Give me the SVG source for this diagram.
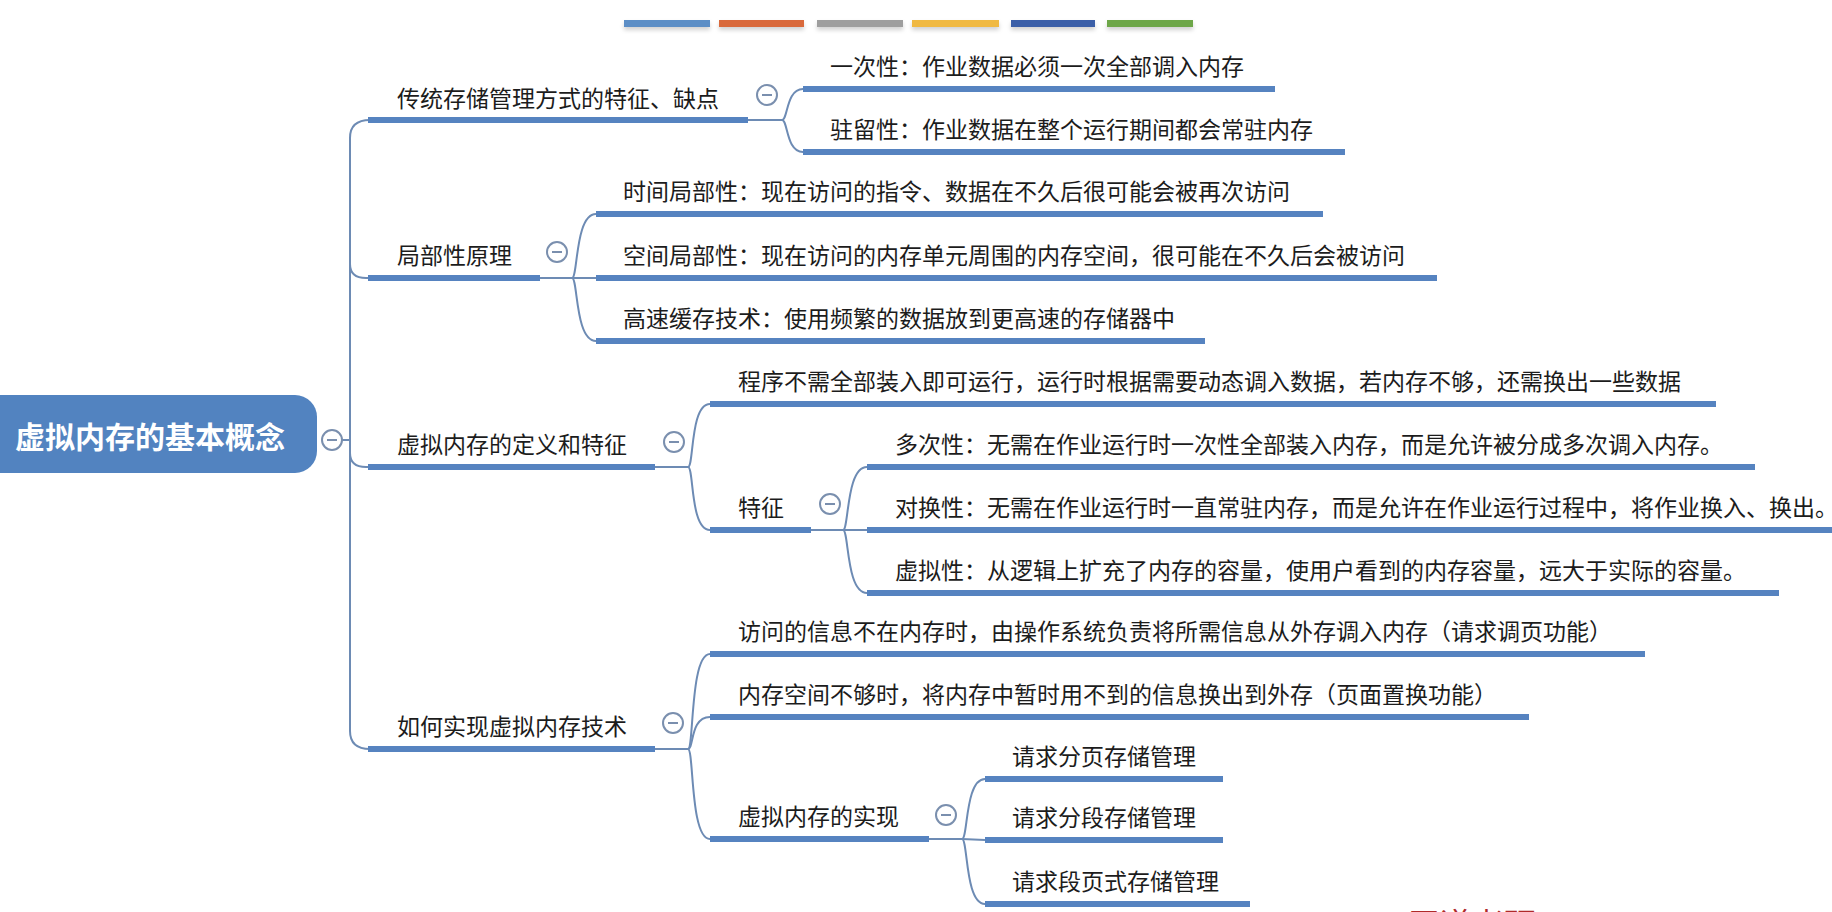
<svg xmlns="http://www.w3.org/2000/svg" width="1832" height="912" viewBox="0 0 1832 912">
<defs>
<style>
.t{font-family:'Liberation Sans','Noto Sans CJK SC',sans-serif;font-size:23px;fill:#1c1c1c;}
.rt{font-family:'Liberation Sans','Noto Sans CJK SC',sans-serif;font-size:30px;font-weight:bold;fill:#ffffff;}
.ul{stroke:#5683c0;stroke-width:6;fill:none;}
.cn{stroke:#6d8bb4;stroke-width:2;fill:none;}
.tg circle{fill:#ffffff;stroke:#7a8fae;stroke-width:2;}
.tg line{stroke:#7a8fae;stroke-width:2;}
.wm{font-family:'Liberation Sans','Noto Sans CJK SC',sans-serif;font-size:32px;fill:#b02a2a;}
</style>
<filter id="sh" x="-10%" y="-50%" width="120%" height="250%">
<feDropShadow dx="0" dy="3" stdDeviation="2" flood-color="#000" flood-opacity="0.18"/>
</filter>
</defs>
<rect x="0" y="0" width="1832" height="912" fill="#ffffff"/>

<g id="legend" filter="url(#sh)">
<rect x="624" y="20" width="86" height="7" fill="#5b8ec6"/>
<rect x="719" y="20" width="85" height="7" fill="#d9693a"/>
<rect x="817" y="20" width="86" height="7" fill="#9e9e9e"/>
<rect x="912" y="20" width="87" height="7" fill="#f0b942"/>
<rect x="1011" y="20" width="84" height="7" fill="#3b5ea8"/>
<rect x="1107" y="20" width="86" height="7" fill="#6ea748"/>
</g>

<g id="connectors">
<path class="cn" d="M 342,440 L 350,440"/>
<path class="cn" d="M 370,120 Q 350,120 350,138 L 350,731 Q 350,749 370,749"/>
<path class="cn" d="M 350,264 Q 350,278 366,278 L 370,278"/>
<path class="cn" d="M 350,453 Q 350,467 366,467 L 370,467"/>
<!-- branch 1 -->
<path class="cn" d="M 748,120 L 782,120"/>
<path class="cn" d="M 782,120 C 788,120 786,89 803,89"/>
<path class="cn" d="M 782,120 C 788,120 786,152 803,152"/>
<!-- branch 2 -->
<path class="cn" d="M 540,278 L 596,278"/>
<path class="cn" d="M 572,278 C 578,278 575,214 596,214"/>
<path class="cn" d="M 572,278 C 578,278 575,341 596,341"/>
<!-- branch 3 -->
<path class="cn" d="M 655,467 L 688,467"/>
<path class="cn" d="M 688,467 C 694,467 690,404 710,404"/>
<path class="cn" d="M 688,467 C 694,467 690,530 710,530"/>
<!-- features -->
<path class="cn" d="M 811,530 L 867,530"/>
<path class="cn" d="M 843,530 C 849,530 846,467 867,467"/>
<path class="cn" d="M 843,530 C 849,530 846,593 867,593"/>
<!-- branch 4 -->
<path class="cn" d="M 655,749 L 688,749"/>
<path class="cn" d="M 688,749 C 694,749 690,654 710,654"/>
<path class="cn" d="M 688,749 C 694,749 690,717 710,717"/>
<path class="cn" d="M 688,749 C 694,749 690,839 710,839"/>
<!-- implementation -->
<path class="cn" d="M 929,839 L 962,839"/>
<path class="cn" d="M 962,839 C 968,839 965,779 985,779"/>
<path class="cn" d="M 962,839 L 985,840"/>
<path class="cn" d="M 962,839 C 968,839 965,904 985,904"/>
</g>

<g id="root">
<rect x="-24" y="395" width="341" height="78" rx="22" fill="#5283c0"/>
<text class="rt" x="15" y="448" textLength="270" lengthAdjust="spacingAndGlyphs">虚拟内存的基本概念</text>
</g>

<g id="n1">
<line class="ul" x1="368" y1="120" x2="748" y2="120"/>
<text class="t" x="397" y="107">传统存储管理方式的特征、缺点</text>
</g>
<g id="n1a">
<line class="ul" x1="803" y1="89" x2="1275" y2="89"/>
<text class="t" x="830" y="75">一次性：作业数据必须一次全部调入内存</text>
</g>
<g id="n1b">
<line class="ul" x1="803" y1="152" x2="1345" y2="152"/>
<text class="t" x="830" y="138">驻留性：作业数据在整个运行期间都会常驻内存</text>
</g>

<g id="n2">
<line class="ul" x1="368" y1="278" x2="540" y2="278"/>
<text class="t" x="397" y="264">局部性原理</text>
</g>
<g id="n2a">
<line class="ul" x1="596" y1="214" x2="1323" y2="214"/>
<text class="t" x="623" y="200">时间局部性：现在访问的指令、数据在不久后很可能会被再次访问</text>
</g>
<g id="n2b">
<line class="ul" x1="596" y1="278" x2="1437" y2="278"/>
<text class="t" x="623" y="264">空间局部性：现在访问的内存单元周围的内存空间，很可能在不久后会被访问</text>
</g>
<g id="n2c">
<line class="ul" x1="596" y1="341" x2="1205" y2="341"/>
<text class="t" x="623" y="327">高速缓存技术：使用频繁的数据放到更高速的存储器中</text>
</g>

<g id="n3">
<line class="ul" x1="368" y1="467" x2="655" y2="467"/>
<text class="t" x="397" y="453">虚拟内存的定义和特征</text>
</g>
<g id="n3a">
<line class="ul" x1="710" y1="404" x2="1716" y2="404"/>
<text class="t" x="738" y="390">程序不需全部装入即可运行，运行时根据需要动态调入数据，若内存不够，还需换出一些数据</text>
</g>
<g id="n3b">
<line class="ul" x1="710" y1="530" x2="811" y2="530"/>
<text class="t" x="738" y="516">特征</text>
</g>
<g id="n3b1">
<line class="ul" x1="867" y1="467" x2="1755" y2="467"/>
<text class="t" x="895" y="453">多次性：无需在作业运行时一次性全部装入内存，而是允许被分成多次调入内存。</text>
</g>
<g id="n3b2">
<line class="ul" x1="867" y1="530" x2="1840" y2="530"/>
<text class="t" x="895" y="516">对换性：无需在作业运行时一直常驻内存，而是允许在作业运行过程中，将作业换入、换出。</text>
</g>
<g id="n3b3">
<line class="ul" x1="867" y1="593" x2="1779" y2="593"/>
<text class="t" x="895" y="579">虚拟性：从逻辑上扩充了内存的容量，使用户看到的内存容量，远大于实际的容量。</text>
</g>

<g id="n4">
<line class="ul" x1="368" y1="749" x2="655" y2="749"/>
<text class="t" x="397" y="735">如何实现虚拟内存技术</text>
</g>
<g id="n4a">
<line class="ul" x1="710" y1="654" x2="1645" y2="654"/>
<text class="t" x="738" y="640">访问的信息不在内存时，由操作系统负责将所需信息从外存调入内存（请求调页功能）</text>
</g>
<g id="n4b">
<line class="ul" x1="710" y1="717" x2="1529" y2="717"/>
<text class="t" x="738" y="703">内存空间不够时，将内存中暂时用不到的信息换出到外存（页面置换功能）</text>
</g>
<g id="n4c">
<line class="ul" x1="710" y1="839" x2="929" y2="839"/>
<text class="t" x="738" y="825">虚拟内存的实现</text>
</g>
<g id="n4c1">
<line class="ul" x1="985" y1="779" x2="1223" y2="779"/>
<text class="t" x="1012" y="765">请求分页存储管理</text>
</g>
<g id="n4c2">
<line class="ul" x1="985" y1="840" x2="1223" y2="840"/>
<text class="t" x="1012" y="826">请求分段存储管理</text>
</g>
<g id="n4c3">
<line class="ul" x1="985" y1="904" x2="1250" y2="904"/>
<text class="t" x="1012" y="890">请求段页式存储管理</text>
</g>

<g id="toggles" class="tg">
<circle cx="332" cy="440" r="10"/><line x1="327" y1="440" x2="337" y2="440"/>
<circle cx="767" cy="95" r="10"/><line x1="762" y1="95" x2="772" y2="95"/>
<circle cx="557" cy="252" r="10"/><line x1="552" y1="252" x2="562" y2="252"/>
<circle cx="674" cy="442" r="10"/><line x1="669" y1="442" x2="679" y2="442"/>
<circle cx="830" cy="504" r="10"/><line x1="825" y1="504" x2="835" y2="504"/>
<circle cx="673" cy="723" r="10"/><line x1="668" y1="723" x2="678" y2="723"/>
<circle cx="946" cy="815" r="10"/><line x1="941" y1="815" x2="951" y2="815"/>
</g>

<g id="watermark">
<text class="wm" x="1408" y="936">王道考研/CSKAOYAN.COM</text>
</g>
</svg>
